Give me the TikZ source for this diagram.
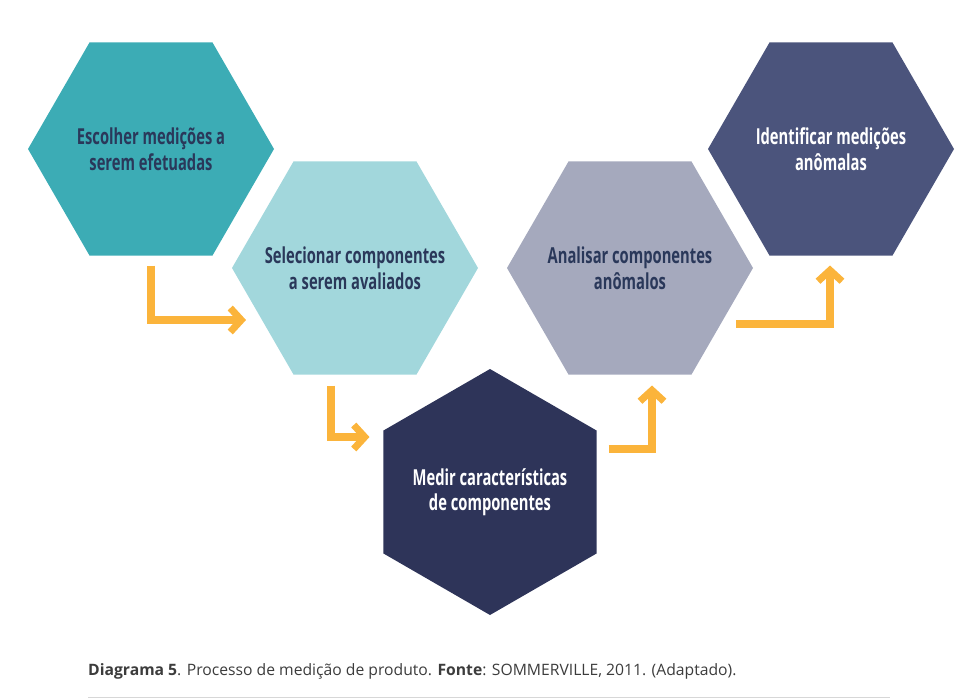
\documentclass[tikz,border=0pt]{standalone}
\usepackage{fontspec}
\setmainfont{Open Sans}
\newfontfamily\hexfont[FakeStretch=0.67]{Open Sans}
\usetikzlibrary{shapes.geometric,arrows.meta,positioning}
\definecolor{hex_teal}{RGB}{60,172,181}
\definecolor{hex_aqua}{RGB}{162,215,220}
\definecolor{hex_navy}{RGB}{46,52,89}
\definecolor{hex_lilac}{RGB}{165,169,189}
\definecolor{hex_slate}{RGB}{75,84,124}
\definecolor{text_navy}{RGB}{42,56,90}
\definecolor{arrow_orange}{RGB}{251,180,59}
\definecolor{caption_gray}{RGB}{60,60,60}
\definecolor{rule_gray}{RGB}{215,215,215}

\begin{document}
\begin{tikzpicture}[x=1pt,y=-1pt,>={Straight Barb[length=11pt,width=24pt,line width=7pt]}]
    \tikzstyle{hexa}=[regular polygon, regular polygon sides=6, minimum size=246pt, inner sep=0pt, outer sep=0pt]
    \tikzstyle{hexlabel}=[align=center, font=\hexfont\bfseries\fontsize{22}{25.5}\selectfont]
    \tikzstyle{flow}=[->, draw=arrow_orange, line width=8pt]

    \useasboundingbox (0,0) rectangle (975,699);

    \node[hexa, fill=hex_teal,  label={[hexlabel, text=text_navy]center:Escolher medições a\\serem efetuadas}]     (choose)   at (151,149) {};
    \node[hexa, fill=hex_aqua,  label={[hexlabel, text=text_navy]center:Selecionar componentes\\a serem avaliados}] (select)   at (355,268) {};
    \node[hexa, fill=hex_navy,  shape border rotate=90,
                                label={[hexlabel, text=white]center:Medir características\\de componentes}]         (measure)  at (490,492) {};
    \node[hexa, fill=hex_lilac, label={[hexlabel, text=text_navy]center:Analisar componentes\\anômalos}]            (analyse)  at (630,268) {};
    \node[hexa, fill=hex_slate, label={[hexlabel, text=white]center:Identificar medições\\anômalas}]                (identify) at (831,149) {};

    \draw[flow] ([yshift=-10pt]choose.south) |- ([xshift=14pt,yshift=-52pt]select.west);
    \draw[flow] ([xshift=-24pt,yshift=-11pt]select.south) |- ([xshift=-14pt,yshift=55pt]measure.west);
    \draw[flow] ([xshift=12pt,yshift=43pt]measure.east) -| ([xshift=22pt,yshift=-11pt]analyse.south);
    \draw[flow] ([xshift=-17pt,yshift=-56pt]analyse.east) -| ([xshift=-1pt,yshift=-10pt]identify.south);

    \node[anchor=base west, inner sep=0pt, text=caption_gray, font=\fontsize{15.7}{18}\selectfont] (caption) at (88,675)
      {\textbf{Diagrama 5}. Processo de medição de produto. \textbf{Fonte}: SOMMERVILLE, 2011. (Adaptado).};
    \draw[rule_gray, line width=1pt] (88,697) -- (890,697);
\end{tikzpicture}
\end{document}
